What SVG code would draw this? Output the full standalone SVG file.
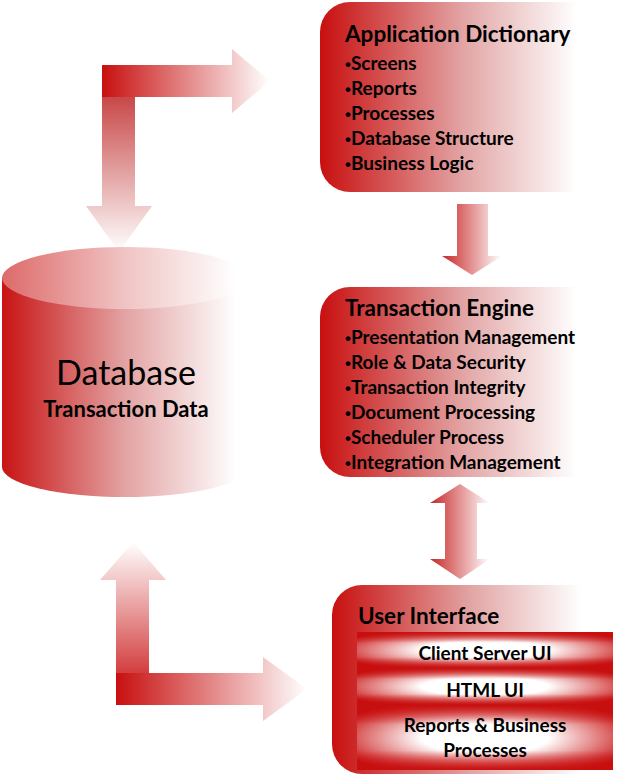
<svg xmlns="http://www.w3.org/2000/svg" width="627" height="777" viewBox="0 0 627 777">
<defs>
<linearGradient id="gBox" x1="0" y1="0" x2="1" y2="0">
<stop offset="0" stop-color="#c80f0f"/>
<stop offset="0.5" stop-color="#e3a7a7"/>
<stop offset="0.88" stop-color="#ffffff"/>
</linearGradient>
<linearGradient id="gCyl" x1="0" y1="0" x2="1" y2="0">
<stop offset="0" stop-color="#c81414"/>
<stop offset="0.5" stop-color="#e3a3a3"/>
<stop offset="0.95" stop-color="#ffffff"/>
</linearGradient>
<linearGradient id="gCylTop" x1="0" y1="0" x2="1" y2="0">
<stop offset="0" stop-color="#de6a6a"/>
<stop offset="0.5" stop-color="#f0c4c4"/>
<stop offset="0.95" stop-color="#ffffff"/>
</linearGradient>
<linearGradient id="gH" x1="0" y1="0" x2="1" y2="0">
<stop offset="0" stop-color="#c80f0f"/>
<stop offset="1" stop-color="#ffffff"/>
</linearGradient>
<linearGradient id="gVdown" x1="0" y1="0" x2="0" y2="1">
<stop offset="0" stop-color="#c84848"/>
<stop offset="1" stop-color="#ffffff"/>
</linearGradient>
<linearGradient id="gVup" x1="0" y1="1" x2="0" y2="0">
<stop offset="0" stop-color="#c80f0f"/>
<stop offset="1" stop-color="#ffffff"/>
</linearGradient>
<linearGradient id="gArr" x1="0" y1="0" x2="1" y2="0">
<stop offset="0" stop-color="#c82828"/>
<stop offset="1" stop-color="#ffffff"/>
</linearGradient>
<radialGradient id="gRow" cx="0.5" cy="0.5" r="0.62">
<stop offset="0.4" stop-color="#ffffff"/>
<stop offset="1" stop-color="#c80f0f"/>
</radialGradient>
<linearGradient id="gRowV" x1="0" y1="0" x2="0" y2="1">
<stop offset="0" stop-color="#c80f0f"/>
<stop offset="0.3" stop-color="#c80f0f" stop-opacity="0"/>
<stop offset="0.7" stop-color="#c80f0f" stop-opacity="0"/>
<stop offset="1" stop-color="#c80f0f"/>
</linearGradient>
</defs>
<style>
text{font-family:Lato,"Liberation Sans",sans-serif;fill:#000}
.h{font-size:22.5px;font-weight:bold}
.i{font-size:19px;font-weight:bold}
.b{font-size:17px;font-family:"Liberation Sans",sans-serif}
.r{font-size:19px;font-weight:bold;text-anchor:middle}
.box{fill:url(#gBox)}
</style>
<g id="connectors">
<g id="arrow-db-ad">
<path d="M102,97 H135 V206 H152 L119,252 L86,206 H102 Z" fill="url(#gVdown)"/>
<path d="M102,65 H232 V49 L270,81 L232,113 V97 H102 Z" fill="url(#gH)"/>
</g>
<g id="arrow-ad-te">
<path d="M457,204 H488 V256 H502 L472,275 L442,256 H457 Z" fill="url(#gArr)"/>
</g>
<g id="arrow-te-ui">
<path d="M460,484 L490,503 H477 V559 H490 L460,579 L430,559 H445 V503 H430 Z" fill="url(#gArr)"/>
</g>
<g id="arrow-ui-db">
<path d="M116,580 H100 L133,542 L166,580 H149 V705 H116 Z" fill="url(#gVup)"/>
<path d="M116,673 H263 V657 L307,689 L263,721 V705 H116 Z" fill="url(#gH)"/>
</g>
</g>
<g id="database">
<path d="M2,278 V467 A123,30 0 0 0 248,467 V278 Z" fill="url(#gCyl)"/>
<ellipse cx="125" cy="278" rx="123" ry="31" fill="url(#gCylTop)"/>
<text x="126" y="385" text-anchor="middle" style="font-size:34px">Database</text>
<text x="126" y="417" text-anchor="middle" style="font-size:22px;font-weight:bold">Transaction Data</text>
</g>
<g id="app-dictionary">
<rect class="box" x="320" y="2" width="292" height="190" rx="30"/>
<text class="h" x="345" y="42">Application Dictionary</text>
<text class="i" x="345" y="70"><tspan class="b">•</tspan>Screens</text>
<text class="i" x="345" y="95"><tspan class="b">•</tspan>Reports</text>
<text class="i" x="345" y="120"><tspan class="b">•</tspan>Processes</text>
<text class="i" x="345" y="145"><tspan class="b">•</tspan>Database Structure</text>
<text class="i" x="345" y="170"><tspan class="b">•</tspan>Business Logic</text>
</g>
<g id="transaction-engine">
<rect class="box" x="320" y="287" width="292" height="190" rx="30"/>
<text class="h" x="345" y="316">Transaction Engine</text>
<text class="i" x="345" y="344"><tspan class="b">•</tspan>Presentation Management</text>
<text class="i" x="345" y="369"><tspan class="b">•</tspan>Role &amp; Data Security</text>
<text class="i" x="345" y="394"><tspan class="b">•</tspan>Transaction Integrity</text>
<text class="i" x="345" y="419"><tspan class="b">•</tspan>Document Processing</text>
<text class="i" x="345" y="444"><tspan class="b">•</tspan>Scheduler Process</text>
<text class="i" x="345" y="469"><tspan class="b">•</tspan>Integration Management</text>
</g>
<g id="user-interface">
<rect class="box" x="332" y="585" width="283" height="189" rx="30"/>
<text class="h" x="358" y="624">User Interface</text>
<g id="ui-client-server">
<rect x="357" y="632" width="256" height="36" fill="url(#gRow)"/>
<rect x="357" y="632" width="256" height="36" fill="url(#gRowV)"/>
<text class="r" x="485" y="660">Client Server UI</text>
</g>
<g id="ui-html">
<rect x="357" y="668" width="256" height="37" fill="url(#gRow)"/>
<rect x="357" y="668" width="256" height="37" fill="url(#gRowV)"/>
<text class="r" x="485" y="697">HTML UI</text>
</g>
<g id="ui-reports">
<rect x="357" y="705" width="256" height="65" fill="url(#gRow)"/>
<rect x="357" y="705" width="256" height="65" fill="url(#gRowV)"/>
<text class="r" x="485" y="732">Reports &amp; Business</text>
<text class="r" x="485" y="757">Processes</text>
</g>
</g>
</svg>
